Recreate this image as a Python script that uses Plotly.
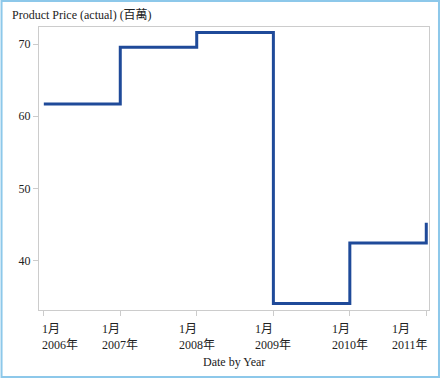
import plotly.graph_objects as go

dates = ["2006-01-01", "2007-01-01", "2008-01-01", "2009-01-01", "2010-01-01", "2011-01-01"]
prices = [61.7, 69.6, 71.65, 34.0, 42.4, 45.2]
tick_vals = dates
months = ["1月"] * 6
years = ["2006年", "2007年", "2008年", "2009年", "2010年", "2011年"]
y_ticks = [40, 50, 60, 70]

W, H = 440, 378
ml, mr, mt, mb = 38.5, 11, 27, 68
pw, ph = W - ml - mr, H - mt - mb

FONT = "Liberation Serif, Times New Roman, Noto Sans CJK TC, serif"
TXT = dict(family=FONT, size=12, color="#222")

fig = go.Figure()
fig.add_trace(go.Scatter(
    x=dates, y=prices, mode="lines", line_shape="hv",
    line=dict(color="#1F4A99", width=3), showlegend=False, hoverinfo="x+y"
))

# tick labels: two left-aligned lines, kept inside the frame at both ends
anchors = ["left"] + ["center"] * 4 + ["right"]
shifts = [-4, 0, 0, 0, 0, 4]
annotations = []
for i, d in enumerate(tick_vals):
    annotations.append(dict(
        text=months[i] + "<br>" + years[i], xref="x", yref="paper",
        x=d, y=0, yshift=-10, xanchor=anchors[i], xshift=shifts[i],
        yanchor="top", align="left", showarrow=False, font=TXT,
    ))
annotations.append(dict(
    text="Date by Year", xref="paper", yref="paper", x=0.5, y=0, yshift=-43,
    xanchor="center", yanchor="top", showarrow=False, font=TXT,
))
annotations.append(dict(
    text="Product Price (actual) (百萬)", xref="paper", yref="paper",
    x=(9 - ml) / pw, y=1 + 3 / ph,
    xanchor="left", yanchor="bottom", showarrow=False, font=TXT,
))

fig.update_layout(
    width=W, height=H,
    margin=dict(l=ml, r=mr, t=mt, b=mb, pad=0),
    paper_bgcolor="white", plot_bgcolor="white",
    font=TXT,
    xaxis=dict(
        range=["2005-12-09", "2011-01-14"],
        tickmode="array", tickvals=tick_vals, showticklabels=False,
        showgrid=False, zeroline=False,
        showline=True, linecolor="#CCCCCC", linewidth=1, mirror=True,
        ticks="outside", ticklen=5, tickcolor="#CCCCCC",
    ),
    yaxis=dict(
        range=[33.1, 72.4],
        tickmode="array", tickvals=y_ticks,
        showgrid=False, zeroline=False,
        showline=True, linecolor="#CCCCCC", linewidth=1, mirror=True,
        ticks="outside", ticklen=5, tickcolor="#CCCCCC",
        tickfont=TXT,
    ),
    annotations=annotations,
    shapes=[dict(
        type="rect", xref="paper", yref="paper",
        x0=(1 - ml) / pw, x1=(W - 1 - ml) / pw,
        y0=-(mb - 1) / ph, y1=(H - mb - 1) / ph,
        line=dict(color="#8DC8EA", width=2), fillcolor="rgba(0,0,0,0)", layer="above",
    )],
)

fig.write_html(
    "out.html", config={"displayModeBar": False},
    post_script="document.body.style.margin='0';document.body.style.padding='0';",
)
